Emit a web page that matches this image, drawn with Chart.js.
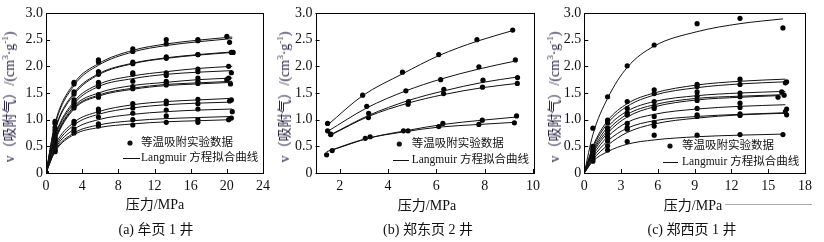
<!DOCTYPE html>
<html>
<head>
<meta charset="utf-8">
<script src="https://cdn.jsdelivr.net/npm/chart.js@4"></script>
<style>
body { margin: 0; background: #fff; width: 824px; height: 242px; position: relative; overflow: hidden;
       font-family: 'Liberation Serif', 'Noto Sans CJK SC', serif; color: #111; }
canvas { position: absolute; top: 0; }
.lbl { position: absolute; white-space: nowrap; font-size: 14px; transform: translate(-50%, -50%); }
.ylbl { position: absolute; white-space: nowrap; font-size: 14px; color: #2a2444;
        transform: translate(-50%, -50%) rotate(-90deg); }
.ylbl sup { font-size: 9px; }
</style>
</head>
<body>
<canvas id="chartA" width="275" height="242" style="left:0"></canvas>
<canvas id="chartB" width="270" height="242" style="left:275px"></canvas>
<canvas id="chartC" width="279" height="242" style="left:545px"></canvas>

<div class="ylbl" style="left:7.5px;top:97px">v（吸附气）/(cm<sup>3</sup>·g<sup>-1</sup>)</div>
<div class="ylbl" style="left:283px;top:97px">v（吸附气）/(cm<sup>3</sup>·g<sup>-1</sup>)</div>
<div class="ylbl" style="left:553px;top:97px">v（吸附气）/(cm<sup>3</sup>·g<sup>-1</sup>)</div>

<div class="lbl" style="left:155px;top:203px">压力/MPa</div>
<div class="lbl" style="left:427px;top:204px">压力/MPa</div>
<div class="lbl" style="left:693px;top:204px">压力/MPa</div>
<div style="position:absolute;left:725px;top:204px;width:87px;height:1px;background:#aaa"></div>

<div class="lbl" style="left:156px;top:228px">(a) 牟页 1 井</div>
<div class="lbl" style="left:428px;top:228px">(b) 郑东页 2 井</div>
<div class="lbl" style="left:692px;top:228px">(c) 郑西页 1 井</div>

<script>
// axis ticks
const yTicks = [0, 0.5, 1.0, 1.5, 2.0, 2.5, 3.0];
const aXTicks = [0, 4, 8, 12, 16, 20, 24];
const bXTicks = [2, 4, 6, 8, 10];
const cXTicks = [0, 3, 6, 9, 12, 15, 18];

// (a) 牟页1井 - shared pressures, last point pressure varies per sample
const aPressure = [0, 1.0, 3.1, 5.8, 9.6, 13.3, 16.8, 20.1];
const aEndPressure = [20.0, 20.3, 20.5, 20.7, 20.2, 20.5, 20.2, 20.0, 20.4, 20.5, 20.3, 20.6, 20.5, 20.2];
const aFitPressure = [0, 1.0, 3.1, 5.8, 9.6, 13.3, 16.8, 20.6];
const aMeasured = [
    [0, 0.97, 1.70, 2.12, 2.33, 2.50, 2.50, 2.56],
    [0, 0.93, 1.67, 2.08, 2.28, 2.42, 2.48, 2.45],
    [0, 0.85, 1.52, 1.90, 2.08, 2.18, 2.22, 2.26],
    [0, 0.80, 1.48, 1.85, 2.05, 2.15, 2.22, 2.26],
    [0, 0.72, 1.37, 1.70, 1.88, 1.88, 1.95, 2.00],
    [0, 0.68, 1.33, 1.66, 1.85, 1.83, 1.90, 1.88],
    [0, 0.65, 1.30, 1.62, 1.72, 1.72, 1.78, 1.78],
    [0, 0.62, 1.25, 1.47, 1.62, 1.68, 1.72, 1.75],
    [0, 0.60, 1.22, 1.42, 1.58, 1.65, 1.68, 1.67],
    [0, 0.55, 0.97, 1.20, 1.30, 1.35, 1.38, 1.37],
    [0, 0.50, 0.93, 1.15, 1.22, 1.30, 1.30, 1.35],
    [0, 0.45, 0.83, 1.05, 1.12, 1.18, 1.20, 1.15],
    [0, 0.42, 0.78, 0.92, 1.00, 1.07, 1.00, 1.03],
    [0, 0.40, 0.75, 0.88, 0.90, 0.95, 0.95, 1.00]
];
const aFitted = [
    [0, 0.93, 1.68, 2.05, 2.30, 2.42, 2.49, 2.55],
    [0, 0.90, 1.64, 2.02, 2.27, 2.39, 2.46, 2.52],
    [0, 0.82, 1.50, 1.86, 2.06, 2.16, 2.22, 2.27],
    [0, 0.80, 1.47, 1.84, 2.05, 2.15, 2.21, 2.26],
    [0, 0.70, 1.34, 1.66, 1.82, 1.90, 1.96, 2.00],
    [0, 0.68, 1.30, 1.62, 1.77, 1.85, 1.89, 1.92],
    [0, 0.64, 1.25, 1.50, 1.64, 1.70, 1.75, 1.78],
    [0, 0.62, 1.22, 1.46, 1.59, 1.66, 1.69, 1.72],
    [0, 0.60, 1.20, 1.44, 1.57, 1.64, 1.67, 1.70],
    [0, 0.52, 0.95, 1.15, 1.28, 1.34, 1.37, 1.40],
    [0, 0.48, 0.90, 1.10, 1.22, 1.28, 1.31, 1.33],
    [0, 0.45, 0.82, 1.00, 1.10, 1.15, 1.18, 1.20],
    [0, 0.42, 0.75, 0.90, 0.98, 1.02, 1.04, 1.06],
    [0, 0.40, 0.72, 0.85, 0.92, 0.96, 0.98, 1.00]
];

// (b) 郑东页2井 - each sample has its own pressures
const bPressure = [
    [1.50, 2.95, 4.60, 6.10, 7.68, 9.16],
    [1.50, 3.12, 4.74, 6.18, 7.76, 9.27],
    [1.63, 3.20, 4.85, 6.31, 7.93, 9.36],
    [1.63, 3.19, 4.83, 6.30, 7.91, 9.35],
    [1.69, 3.26, 4.83, 6.27, 7.90, 9.32],
    [1.46, 3.06, 4.64, 6.10, 7.76, 9.23]
];
const bMeasured = [
    [0.93, 1.46, 1.89, 2.22, 2.50, 2.68],
    [0.79, 1.25, 1.54, 1.75, 1.99, 2.12],
    [0.73, 1.12, 1.34, 1.57, 1.74, 1.79],
    [0.72, 1.04, 1.29, 1.49, 1.61, 1.68],
    [0.42, 0.68, 0.79, 0.93, 0.99, 1.07],
    [0.34, 0.65, 0.79, 0.87, 0.91, 0.94]
];
const bFitted = [
    [0.90, 1.45, 1.86, 2.20, 2.47, 2.67],
    [0.78, 1.22, 1.54, 1.76, 1.95, 2.10],
    [0.72, 1.08, 1.36, 1.54, 1.70, 1.80],
    [0.71, 1.06, 1.31, 1.47, 1.60, 1.68],
    [0.43, 0.66, 0.80, 0.91, 0.99, 1.05],
    [0.40, 0.64, 0.77, 0.86, 0.91, 0.95]
];

// (c) 郑西页1井
const cPressure = [0.7, 1.9, 3.5, 5.7, 9.2, 12.7, 16.3];
const cEndPressure = [16.2, 16.5, 16.4, 16.1, 16.3, 15.8, 16.5, 16.4, 16.5, 16.2];
const cFitPressure = [0, 0.7, 1.9, 3.5, 5.7, 9.2, 12.7, 16.3];
const cFitEnd = [16.2, 16.4, 16.4, 16.4, 16.4, 15.8, 16.4, 16.4, 16.4, 16.3];
const cMeasured = [
    [0.84, 1.43, 2.01, 2.40, 2.80, 2.90, 2.72],
    [0.50, 0.99, 1.34, 1.56, 1.66, 1.76, 1.71],
    [0.46, 0.94, 1.21, 1.49, 1.62, 1.66, 1.69],
    [0.42, 0.84, 1.13, 1.34, 1.52, 1.50, 1.52],
    [0.40, 0.79, 1.09, 1.25, 1.44, 1.43, 1.46],
    [0.38, 0.73, 1.09, 1.21, 1.36, 1.31, 1.42],
    [0.34, 0.67, 0.93, 1.06, 1.21, 1.23, 1.20],
    [0.30, 0.60, 0.85, 0.95, 1.09, 1.08, 1.15],
    [0.26, 0.51, 0.82, 0.88, 1.06, 1.11, 1.09],
    [0.22, 0.43, 0.59, 0.71, 0.71, 0.72, 0.72]
];
const cFitted = [
    [0, 0.72, 1.40, 1.98, 2.38, 2.65, 2.80, 2.89],
    [0, 0.50, 0.98, 1.30, 1.50, 1.65, 1.72, 1.76],
    [0, 0.47, 0.93, 1.25, 1.46, 1.60, 1.67, 1.71],
    [0, 0.43, 0.86, 1.16, 1.34, 1.45, 1.50, 1.53],
    [0, 0.40, 0.80, 1.10, 1.28, 1.40, 1.44, 1.47],
    [0, 0.37, 0.75, 1.05, 1.24, 1.37, 1.42, 1.45],
    [0, 0.33, 0.68, 0.95, 1.10, 1.20, 1.25, 1.28],
    [0, 0.29, 0.60, 0.84, 0.98, 1.06, 1.10, 1.13],
    [0, 0.25, 0.52, 0.76, 0.92, 1.03, 1.09, 1.12],
    [0, 0.22, 0.40, 0.54, 0.62, 0.68, 0.71, 0.73]
];

const serif = "'Liberation Serif', 'Noto Sans CJK SC', serif";

function toPoints(xs, ys, lastX) {
    return ys.map((y, i) => ({
        x: (lastX !== undefined && i === ys.length - 1) ? lastX : xs[i],
        y: y
    }));
}

// frame box and small inward ticks
const framePlugin = {
    id: 'frame',
    afterDraw(chart) {
        const ctx = chart.ctx;
        const a = chart.chartArea;
        const xs = chart.scales.x, ys = chart.scales.y;
        ctx.save();
        ctx.strokeStyle = '#000';
        ctx.lineWidth = 1;
        ctx.strokeRect(Math.round(a.left) + 0.5, Math.round(a.top) + 0.5,
            Math.round(a.right - a.left), Math.round(a.bottom - a.top));
        ctx.beginPath();
        xs.ticks.forEach(t => {
            const px = Math.round(xs.getPixelForValue(t.value)) + 0.5;
            ctx.moveTo(px, a.bottom);
            ctx.lineTo(px, a.bottom - 4);
        });
        ys.ticks.forEach(t => {
            const py = Math.round(ys.getPixelForValue(t.value)) + 0.5;
            ctx.moveTo(a.left, py);
            ctx.lineTo(a.left + 4, py);
        });
        ctx.stroke();
        ctx.restore();
    }
};

// legend drawn inside the plot
const legendPlugin = {
    id: 'isoLegend',
    afterDraw(chart, args, opts) {
        const ctx = chart.ctx;
        ctx.save();
        ctx.fillStyle = '#111';
        ctx.strokeStyle = '#111';
        ctx.font = '11.5px ' + serif;
        ctx.textBaseline = 'middle';
        ctx.beginPath();
        ctx.arc(opts.dotX, opts.dotY, 2.6, 0, Math.PI * 2);
        ctx.fill();
        ctx.fillText('等温吸附实验数据', opts.textX, opts.dotY);
        ctx.lineWidth = 1;
        ctx.beginPath();
        ctx.moveTo(opts.lineX0, opts.lineY + 0.5);
        ctx.lineTo(opts.lineX1, opts.lineY + 0.5);
        ctx.stroke();
        ctx.fillText('Langmuir 方程拟合曲线', opts.textX, opts.lineY);
        ctx.restore();
    }
};

function makeChart(id, cfg) {
    const datasets = [];
    cfg.fits.forEach(f => datasets.push({
        data: f,
        showLine: true,
        pointRadius: 0,
        borderColor: '#111',
        borderWidth: 1,
        cubicInterpolationMode: 'monotone'
    }));
    cfg.points.forEach(p => datasets.push({
        data: p,
        showLine: false,
        pointRadius: 2.6,
        pointBackgroundColor: '#000',
        pointBorderWidth: 0
    }));

    new Chart(document.getElementById(id), {
        type: 'scatter',
        data: { datasets: datasets },
        plugins: [framePlugin, legendPlugin],
        options: {
            responsive: false,
            animation: false,
            layout: { padding: { left: 0, right: cfg.padRight, top: 13, bottom: 39 } },
            plugins: {
                legend: { display: false },
                tooltip: { enabled: false },
                isoLegend: cfg.legend
            },
            scales: {
                x: {
                    type: 'linear',
                    min: cfg.xMin,
                    max: cfg.xMax,
                    border: { display: false },
                    grid: { display: false, drawTicks: false },
                    afterBuildTicks: s => { s.ticks = cfg.xTicks.map(v => ({ value: v })); },
                    afterFit: s => { s.height = 30; },
                    ticks: {
                        padding: 5,
                        color: '#111',
                        font: { family: serif, size: 14 },
                        maxRotation: 0,
                        callback: v => String(v)
                    }
                },
                y: {
                    type: 'linear',
                    min: 0,
                    max: 3,
                    border: { display: false },
                    grid: { display: false, drawTicks: false },
                    afterBuildTicks: s => { s.ticks = yTicks.map(v => ({ value: v })); },
                    afterFit: s => { s.width = cfg.yWidth; },
                    ticks: {
                        padding: 3,
                        color: '#111',
                        font: { family: serif, size: 14 },
                        callback: v => v === 0 ? '0' : v.toFixed(1)
                    }
                }
            }
        }
    });
}

makeChart('chartA', {
    xMin: 0, xMax: 24, xTicks: aXTicks, yWidth: 46, padRight: 9,
    fits: aFitted.map(f => toPoints(aFitPressure, f)),
    points: aMeasured.map((m, i) => toPoints(aPressure, m, aEndPressure[i])),
    legend: { dotX: 130, dotY: 143, textX: 141, lineX0: 123, lineX1: 140, lineY: 158 }
});

makeChart('chartB', {
    xMin: 1, xMax: 10, xTicks: bXTicks, yWidth: 40.5, padRight: 9,
    fits: bFitted.map((f, i) => toPoints(bPressure[i], f)),
    points: bMeasured.map((m, i) => toPoints(bPressure[i], m)),
    legend: { dotX: 124.3, dotY: 144, textX: 136.7, lineX0: 118, lineX1: 134, lineY: 160 }
});

makeChart('chartC', {
    xMin: 0, xMax: 18, xTicks: cXTicks, yWidth: 39.3, padRight: 19,
    fits: cFitted.map((f, i) => toPoints(cFitPressure, f, cFitEnd[i])),
    points: cMeasured.map((m, i) => toPoints(cPressure, m, cEndPressure[i])),
    legend: { dotX: 125, dotY: 146, textX: 137, lineX0: 118, lineX1: 133, lineY: 162 }
});
</script>
</body>
</html>
